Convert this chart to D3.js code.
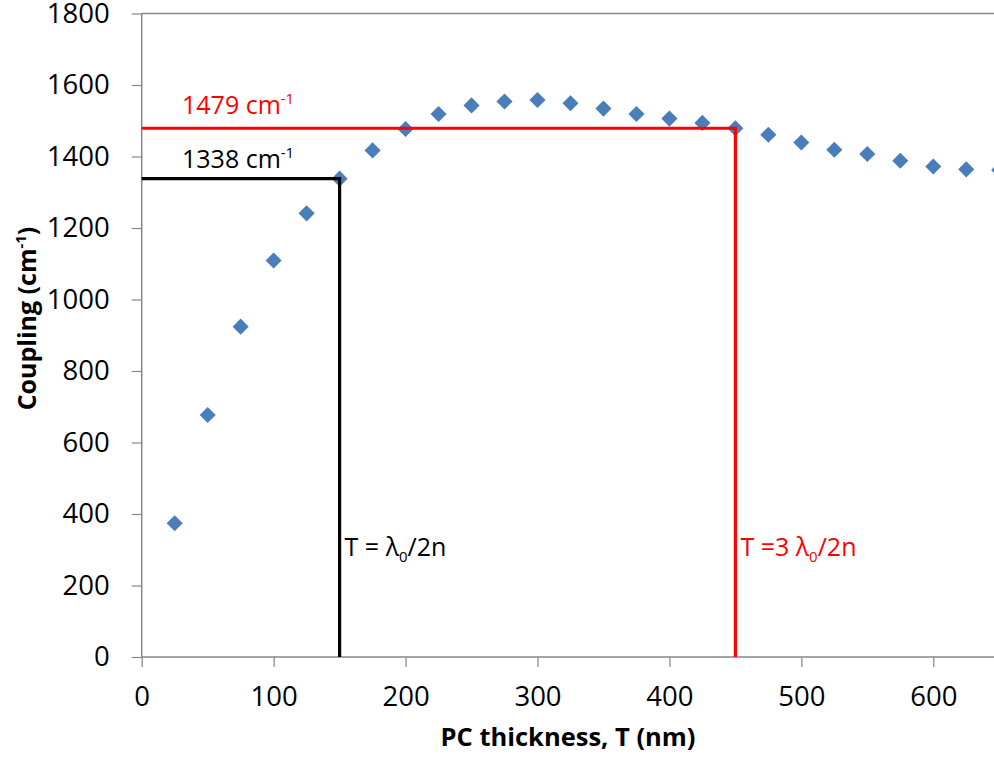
<!DOCTYPE html>
<html>
<head>
<meta charset="utf-8">
<script src="https://cdn.jsdelivr.net/npm/d3@7"></script>
<style>
  html, body { margin: 0; padding: 0; background: #fff; }
  svg { display: block; overflow: hidden; }
  text { font-family: "Open Sans", Lato, sans-serif; }
</style>
</head>
<body>
<svg id="chart" width="994" height="766"></svg>
<script>
// PC thickness (nm) and computed coupling (cm^-1)
const thickness = [25, 50, 75, 100, 125, 150, 175, 200, 225, 250, 275, 300, 325,
                   350, 375, 400, 425, 450, 475, 500, 525, 550, 575, 600, 625, 650];
const coupling  = [374, 677, 924, 1109, 1241, 1338, 1417, 1477, 1519, 1543, 1554, 1558, 1549,
                   1534, 1519, 1506, 1494, 1479, 1461, 1439, 1419, 1407, 1388, 1372, 1364, 1362];

const xTicks = [0, 100, 200, 300, 400, 500, 600];
const yTicks = [0, 200, 400, 600, 800, 1000, 1200, 1400, 1600, 1800];

// Resonance markers: thickness where T = m·λ0/2n and the coupling there
const markerT = [150, 450];
const markerK = [1338, 1479];

const svg = d3.select("#chart");
const x = d3.scaleLinear().domain([0, 700]).range([141.7, 1065.2]);
const y = d3.scaleLinear().domain([0, 1800]).range([657, 13.5]);

const axisColor = "#868686";

// Top border line at the axis maximum
svg.append("line")
  .attr("x1", x(0)).attr("x2", 994)
  .attr("y1", y(1800)).attr("y2", y(1800))
  .attr("stroke", axisColor).attr("stroke-width", 1.5);

// Y axis
const yAxis = svg.append("g")
  .attr("transform", `translate(${x(0)},0)`)
  .call(d3.axisLeft(y).tickValues(yTicks).tickSize(10).tickPadding(22).tickFormat(d3.format("d")));
// X axis
const xAxis = svg.append("g")
  .attr("transform", `translate(0,${y(0)})`)
  .call(d3.axisBottom(x).tickValues(xTicks).tickSize(10).tickPadding(19).tickFormat(d3.format("d")));

[yAxis, xAxis].forEach(g => {
  g.select(".domain").attr("stroke", axisColor).attr("stroke-width", 1.5);
  g.selectAll(".tick line").attr("stroke", axisColor).attr("stroke-width", 1.2);
  g.selectAll(".tick text")
    .attr("fill", "#000")
    .style("font-family", "'Open Sans', Lato, sans-serif")
    .style("font-size", "27.5px");
});
xAxis.select(".domain").attr("d", `M${x(0)},0H994`);
yAxis.select(".domain").attr("d", `M0,${y(1800)}V${y(0)}`);

// Data points (diamonds)
const diamond = d3.symbol().type(d3.symbolSquare).size(130);
svg.append("g").selectAll("path")
  .data(thickness.map((t, i) => ({ t, k: coupling[i] })))
  .join("path")
  .attr("d", diamond)
  .attr("transform", d => `translate(${x(d.t)},${y(d.k)}) rotate(45)`)
  .attr("fill", "#4a7ebb");

// Resonance guide lines
const guideColors = ["#000000", "#ff0000"];
markerT.forEach((t, i) => {
  svg.append("path")
    .attr("d", d3.line()([[x(0), y(markerK[i])], [x(t), y(markerK[i])], [x(t), y(0)]]))
    .attr("fill", "none")
    .attr("stroke", guideColors[i])
    .attr("stroke-width", 3.2);
});

// Coupling value labels
markerK.forEach((k, i) => {
  const tx = svg.append("text")
    .attr("x", 182)
    .attr("y", y(k) - (i === 0 ? 11 : 14))
    .attr("fill", guideColors[i])
    .style("font-size", "25px");
  tx.append("tspan").text(`${k} cm`);
  tx.append("tspan").attr("dy", -10).style("font-size", "15px").text("-1");
});

// Thickness condition labels
const condText = ["T = λ", "T =3 λ"];
markerT.forEach((t, i) => {
  const tx = svg.append("text")
    .attr("x", x(t) + 5)
    .attr("y", 556)
    .attr("fill", guideColors[i])
    .style("font-size", "25px");
  tx.append("tspan").text(condText[i]);
  tx.append("tspan").attr("dy", 6).style("font-size", "15px").text("0");
  tx.append("tspan").attr("dy", -6).text("/2n");
});

// Axis titles
svg.append("text")
  .attr("x", 568).attr("y", 746)
  .attr("text-anchor", "middle")
  .style("font-size", "25.5px").style("font-weight", "bold")
  .text("PC thickness, T (nm)");

const yt = svg.append("text")
  .attr("transform", `translate(36,${(210 + 427) / 2}) rotate(-90)`)
  .attr("text-anchor", "middle")
  .style("font-size", "25px").style("font-weight", "bold");
yt.append("tspan").text("Coupling (cm");
yt.append("tspan").attr("dy", -10).style("font-size", "15px").text("-1");
yt.append("tspan").attr("dy", 10).text(")");
</script>
</body>
</html>
